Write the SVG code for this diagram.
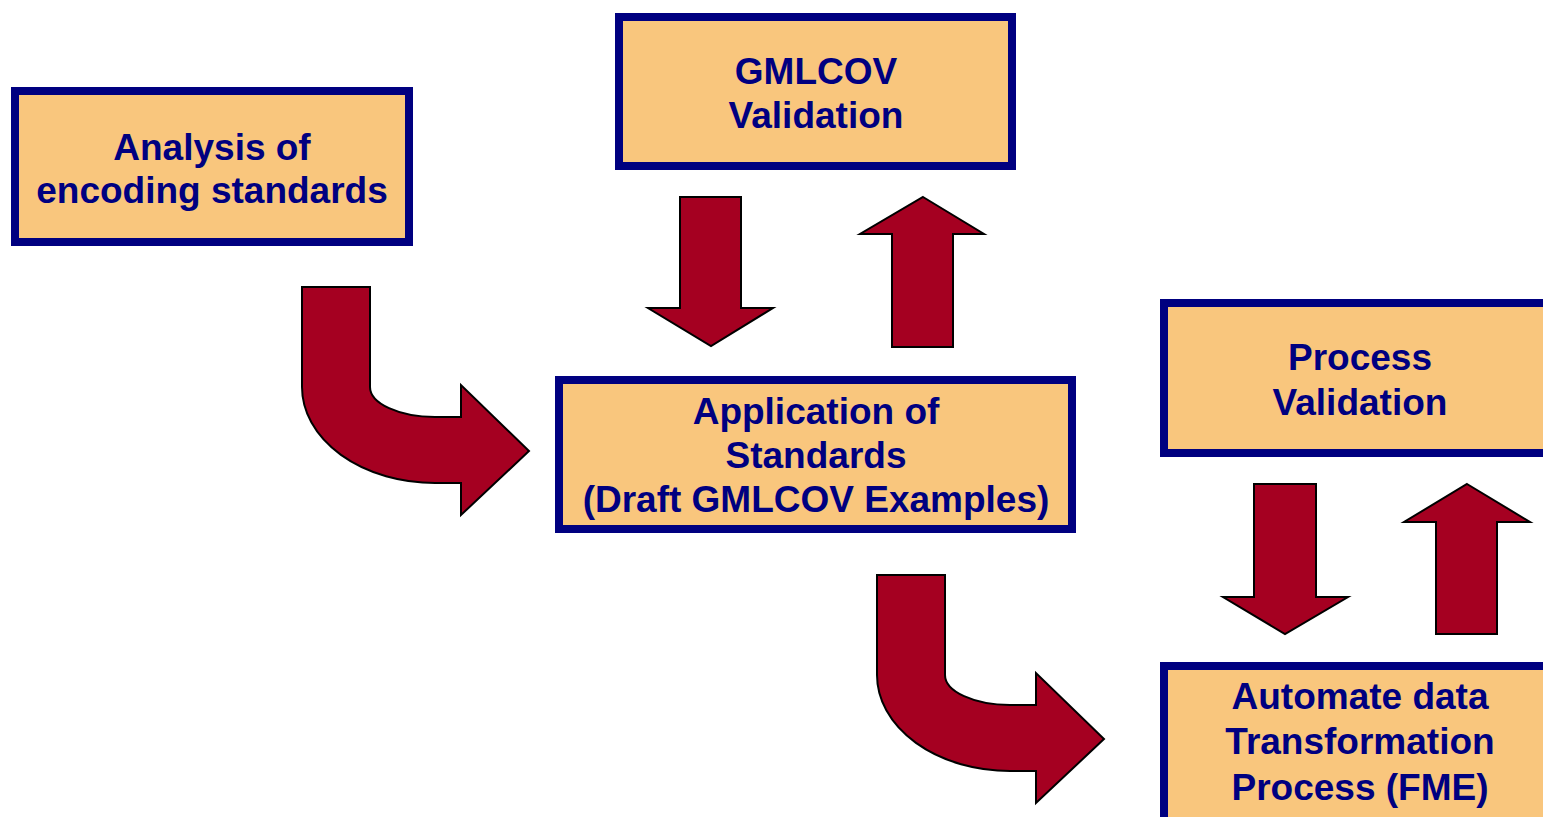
<svg xmlns="http://www.w3.org/2000/svg" width="1543" height="817" viewBox="0 0 1543 817">
<style>
.box{fill:#F9C67D;stroke:#000080;stroke-width:8}
.lbl{font-family:"Liberation Sans",Arial,sans-serif;font-weight:bold;font-size:37px;fill:#000080;text-anchor:middle}
.arr{fill:#A50021;stroke:#000;stroke-width:2;stroke-linejoin:miter}
</style>
<rect width="1543" height="817" fill="#fff"/>
<g id="connectors">
<path id="curve1" class="arr" d="M302,287 L370,287 L370,387 A65,30 0 0 0 435,417 L461,417 L461,385 L529,451 L461,515 L461,483 L435,483 A133,96 0 0 1 302,387 Z"/>
<path id="curve2" class="arr" transform="translate(575,288)" d="M302,287 L370,287 L370,387 A65,30 0 0 0 435,417 L461,417 L461,385 L529,451 L461,515 L461,483 L435,483 A133,96 0 0 1 302,387 Z"/>
<path id="down1" class="arr" d="M680,197 L741,197 L741,308 L773,308 L711,346 L648,308 L680,308 Z"/>
<path id="up1" class="arr" d="M923,197 L984,234 L953,234 L953,347 L892,347 L892,234 L860,234 Z"/>
<path id="down2" class="arr" d="M1254,484 L1316,484 L1316,597 L1348,597 L1285,634 L1223,597 L1254,597 Z"/>
<path id="up2" class="arr" d="M1467,484 L1530,522 L1497,522 L1497,634 L1436,634 L1436,522 L1404,522 Z"/>
</g>
<g id="analysis">
<rect class="box" x="15" y="91" width="394" height="151"/>
<text class="lbl" x="212" y="160">Analysis of</text>
<text class="lbl" x="212" y="203">encoding standards</text>
</g>
<g id="gmlcov">
<rect class="box" x="619" y="17" width="393" height="149"/>
<text class="lbl" x="816" y="84">GMLCOV</text>
<text class="lbl" x="816" y="128">Validation</text>
</g>
<g id="application">
<rect class="box" x="559" y="380" width="513" height="149"/>
<text class="lbl" x="816" y="424">Application of</text>
<text class="lbl" x="816" y="468">Standards</text>
<text class="lbl" x="816" y="512">(Draft GMLCOV Examples)</text>
</g>
<g id="process">
<rect class="box" x="1164" y="303" width="400" height="150"/>
<text class="lbl" x="1360" y="370">Process</text>
<text class="lbl" x="1360" y="415">Validation</text>
</g>
<g id="automate">
<rect class="box" x="1164" y="666" width="400" height="200"/>
<text class="lbl" x="1360" y="709">Automate data</text>
<text class="lbl" x="1360" y="754">Transformation</text>
<text class="lbl" x="1360" y="800">Process (FME)</text>
</g>
</svg>
